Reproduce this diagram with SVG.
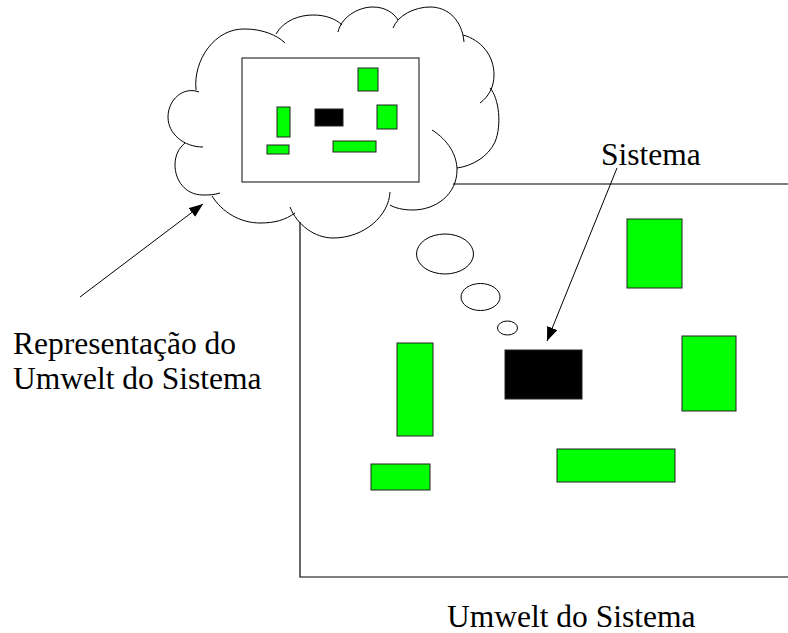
<svg xmlns="http://www.w3.org/2000/svg" width="788" height="633" viewBox="0 0 788 633">
<style>
.ln{fill:none;stroke:#000;stroke-width:1.2}
.cl{fill:none;stroke:#000;stroke-width:1}
.g{fill:#00ff00;stroke:#222;stroke-width:1}
.b{fill:#000;stroke:#222;stroke-width:1}
text{font-family:'Liberation Serif','Times New Roman','DejaVu Serif',serif;font-size:31.5px;fill:#000}
</style>
<defs>
<marker id="ah" markerUnits="userSpaceOnUse" markerWidth="15" markerHeight="12" refX="14" refY="5.5" orient="auto">
<path d="M0,0 L14,5.5 L0,11 z" fill="#000"/>
</marker>
</defs>
<rect width="788" height="633" fill="#fff"/>
<g id="umwelt">
<path class="ln" d="M453,184 L788,184 M300,222 L300,577 L788,577"/>
</g>
<g id="cloud">
<path class="cl" d="M196,90 C193,60 215,28 245,29 C262,29 277,35 285,43"/>
<path class="cl" d="M276,34 C284,20 300,15 313,15 C326,15 336,19 342,25"/>
<path class="cl" d="M338,32 C341,18 357,7 373,7 C385,7 394,13 398,20"/>
<path class="cl" d="M393,28 C398,15 415,7 430,7 C448,7 462,20 464,42"/>
<path class="cl" d="M463,35 C481,40 494,55 494,75 C494,88 488,97 480,103"/>
<path class="cl" d="M490,88 C499,98 502,125 495,142 C488,157 472,166 457,168"/>
<path class="cl" d="M432,130 C448,140 457,155 457,170 C457,195 435,210 413,210 C403,210 395,208 390,205"/>
<path class="cl" d="M390,192 C389,215 365,238 333,238 C315,238 297,225 290,207"/>
<path class="cl" d="M295,213 C285,220 275,223 260,223 C240,223 222,212 212,196"/>
<path class="cl" d="M220,193 C214,195 208,195 203,195 C185,195 175,180 175,165 C175,155 179,148 185,143"/>
<path class="cl" d="M203,147 C184,147 168,134 168,117 C168,100 183,86 199,92"/>
</g>
<g id="representation">
<rect x="242" y="58" width="177" height="124" fill="#fff" stroke="#333" stroke-width="1.2"/>
<rect class="g" x="358" y="68" width="20" height="23"/>
<rect class="b" x="315" y="109" width="28" height="17"/>
<rect class="g" x="377" y="105" width="20" height="24"/>
<rect class="g" x="277" y="107" width="13" height="30"/>
<rect class="g" x="267" y="145" width="22" height="9"/>
<rect class="g" x="333" y="141" width="43" height="11"/>
</g>
<g id="thought-bubbles">
<ellipse class="cl" cx="445" cy="254" rx="28.5" ry="20"/>
<ellipse class="cl" cx="480.5" cy="297" rx="19.5" ry="13.5"/>
<ellipse class="cl" cx="507.5" cy="328" rx="10" ry="7"/>
</g>
<g id="objects">
<rect class="g" x="627" y="219" width="55" height="69"/>
<rect class="g" x="682" y="336" width="54" height="75"/>
<rect class="b" x="505" y="350" width="77" height="49"/>
<rect class="g" x="397" y="343" width="36" height="93"/>
<rect class="g" x="371" y="464" width="59" height="26"/>
<rect class="g" x="557" y="449" width="118" height="33"/>
</g>
<g id="connectors">
<line class="cl" x1="617" y1="168" x2="547" y2="341" marker-end="url(#ah)"/>
<line class="cl" x1="80" y1="297" x2="203" y2="204" marker-end="url(#ah)"/>
</g>
<g id="labels">
<text x="601" y="165">Sistema</text>
<text x="13" y="354">Representação do</text>
<text x="13" y="389">Umwelt do Sistema</text>
<text x="447" y="627">Umwelt do Sistema</text>
</g>
</svg>
